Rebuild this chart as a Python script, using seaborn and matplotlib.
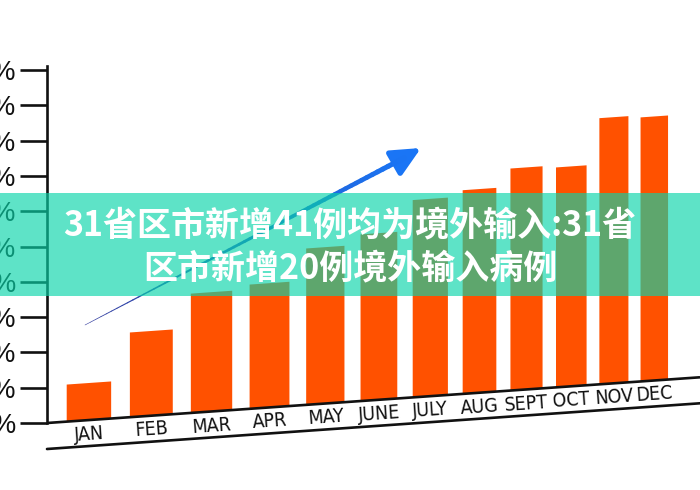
import numpy as np
import matplotlib
matplotlib.use("Agg")
import matplotlib.pyplot as plt
import seaborn as sns
from matplotlib.transforms import Affine2D
from matplotlib.collections import LineCollection
from matplotlib.lines import Line2D
from matplotlib.patches import Rectangle

# ---------------- data ----------------
months = ["JAN", "FEB", "MAR", "APR", "MAY", "JUNE", "JULY", "AUG", "SEPT", "OCT", "NOV", "DEC"]
values = [10.5, 24.0, 33.8, 35.2, 44.3, 47.2, 55.9, 57.7, 62.9, 62.3, 75.4, 74.8]
y_ticks = [0, 10, 20, 30, 40, 50, 60, 70, 80, 90, 100]
y_tick_labels = ["0%", "10%", "20%", "30%", "40%", "50%", "60%", "70%", "80%", "90%", "100%"]
title_line1 = "31省区市新增41例均为境外输入:31省"
title_line2 = "区市新增20例境外输入病例"

BAR_COLOR = "#FF5100"
BANNER_COLOR = "#08D4A9"
INK = "#111111"

sns.set_style("white")
plt.rcParams["font.family"] = ["Noto Sans CJK SC", "DejaVu Sans"]

W, H, DPI = 700, 490, 100
fig = plt.figure(figsize=(W / DPI, H / DPI), dpi=DPI)
fig.patch.set_facecolor("white")

ax_left, ax_bottom = 47 / W, (H - 423) / H
ax_w, ax_h = 653 / W, 353 / H
ax = fig.add_axes([ax_left, ax_bottom, ax_w, ax_h])
ax.set_facecolor("none")

sns.barplot(x=months, y=values, color=BAR_COLOR, saturation=1, width=0.7,
            ax=ax, linewidth=0)

# perspective-like horizontal scale (spacing shrinks toward the right)
A, B = 63.5, 1.1
def fwd(x):
    x = np.asarray(x, dtype=float)
    return A * x - B * x ** 2
def inv(f):
    f = np.asarray(f, dtype=float)
    return (A - np.sqrt(np.maximum(A ** 2 - 4 * B * f, 0))) / (2 * B)
ax.set_xscale("function", functions=(fwd, inv))
ax.set_xlim(-0.655, 12.2)
ax.set_ylim(0, 100)

ax.set_xticks(range(len(months)))
ax.set_xticklabels(months)
ax.set_yticks(y_ticks)
ax.set_yticklabels(y_tick_labels)
ax.set_xlabel("")
ax.set_ylabel("")

for s in ["top", "right", "bottom"]:
    ax.spines[s].set_visible(False)
ax.spines["left"].set_linewidth(1.9)
ax.spines["left"].set_color(INK)
ax.spines["left"].set_bounds(0, 101)
ax.tick_params(axis="y", left=True, direction="out", length=19.5, width=1.9,
               color=INK, pad=2.5, labelsize=19.5, labelcolor=INK)
ax.tick_params(axis="x", bottom=False, length=0, pad=2.5, labelsize=14,
               labelcolor=INK)
for lab in ax.get_yticklabels():
    lab.set_fontfamily(["Liberation Sans", "DejaVu Sans"])

# vertical shear so the baseline rises to the right (tilted view)
x0 = ax_left * W
k = 0.07
shear = Affine2D().translate(-x0, 0).skew(0, np.arctan(k)).translate(x0, 0)

for p in ax.patches:
    p.set_transform(ax.transData + shear)

for lab in ax.get_xticklabels():
    lab.set_fontfamily(["DejaVu Sans"])
    lab.set_fontstretch("condensed")
    lab.set_rotation(np.degrees(np.arctan(k)))
for t in ax.xaxis.get_major_ticks():
    t.label1.set_transform(t.label1.get_transform() + shear)

# baseline and lower rule
ax.add_line(Line2D([0, 1], [0, 0], transform=ax.transAxes + shear,
                   color=INK, lw=1.9, clip_on=False, solid_capstyle="butt"))
ax.add_line(Line2D([0, 1], [0, 0],
                   transform=ax.transAxes + Affine2D().translate(0, -26) + shear,
                   color=INK, lw=1.9, clip_on=False))

# rising trend arrow (decoration)
start = np.array([85 / W, 1 - 325 / H])
shaft_end = np.array([404 / W, 1 - 158 / H])
tip = np.array([421 / W, 1 - 148 / H])
n = 60
ts = np.linspace(0, 1, n + 1)
pts = start + (shaft_end - start) * ts[:, None]
segs = np.stack([pts[:-1], pts[1:]], axis=1)
c0 = np.array([0.20, 0.24, 0.62])
c1 = np.array([0.10, 0.46, 0.96])
cols = [tuple(c0 + (c1 - c0) * t) for t in ts[:-1]]
lc = LineCollection(segs, colors=cols, linewidths=np.linspace(0.4, 3.8, n),
                    transform=fig.transFigure, capstyle="round")
fig.add_artist(lc)
ax.annotate("", xy=tip, xytext=shaft_end - (shaft_end - start) * 0.02,
            xycoords="figure fraction", textcoords="figure fraction",
            arrowprops=dict(arrowstyle="-|>,head_length=0.8,head_width=0.38",
                            mutation_scale=22, color=tuple(c1), lw=3.8,
                            shrinkA=0, shrinkB=0))

# translucent title banner
fig.add_artist(Rectangle((0, 1 - 296 / H), 1, (296 - 193) / H,
                         transform=fig.transFigure, facecolor=BANNER_COLOR,
                         edgecolor="none", alpha=0.65, zorder=10))
for txt, yy in [(title_line1, 225), (title_line2, 268)]:
    fig.text(0.5, 1 - yy / H, txt, ha="center", va="center",
             fontsize=24.5, fontweight="bold", color="white", zorder=11,
             family=["Noto Sans CJK SC", "DejaVu Sans"])

fig.savefig("out.png", dpi=DPI, facecolor="white")
